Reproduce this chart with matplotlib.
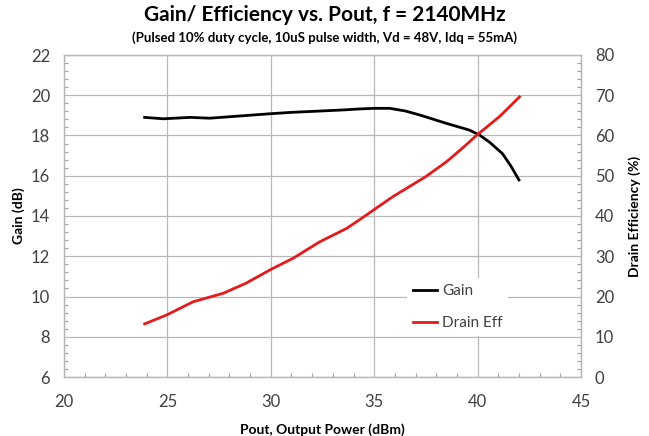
import matplotlib
matplotlib.use("Agg")
import matplotlib.pyplot as plt
from matplotlib.ticker import MultipleLocator

# Data
gain_pout = [23.9, 24.8, 26.1, 27.05, 28.5, 29.95, 31.0, 32.05, 33.5, 34.3, 35.0, 35.75, 36.5, 37.2, 38.5, 39.6, 40.1, 40.6, 41.2, 41.6, 42.0]
gain_db   = [18.9, 18.83, 18.9, 18.86, 18.97, 19.08, 19.15, 19.2, 19.27, 19.32, 19.35, 19.35, 19.22, 19.02, 18.6, 18.27, 18.02, 17.65, 17.1, 16.5, 15.79]

eff_pout = [23.9, 24.96, 26.25, 27.7, 28.8, 30.03, 31.08, 32.37, 33.66, 34.3, 35.9, 37.5, 38.5, 39.3, 39.94, 41.06, 42.03]
eff_pct  = [13.2, 15.4, 18.7, 20.8, 23.3, 26.8, 29.5, 33.6, 36.9, 39.1, 44.8, 49.8, 53.5, 57.0, 60.0, 64.7, 69.6]

title = "Gain/ Efficiency vs. Pout, f = 2140MHz"
subtitle = "(Pulsed 10% duty cycle, 10uS pulse width, Vd = 48V, Idq = 55mA)"

plt.rcParams['font.family'] = ['Lato', 'DejaVu Sans']
txt = '#404040'
gridc = '#b8b8b8'

fig = plt.figure(figsize=(6.49, 4.36), dpi=100)
ax = fig.add_axes([64/649, 1-377/436, (581-64)/649, (377-55)/436])
ax2 = ax.twinx()

ax.set_xlim(20, 45)
ax.set_ylim(6, 22)
ax2.set_ylim(0, 80)
ax.xaxis.set_major_locator(MultipleLocator(5))
ax.xaxis.set_minor_locator(MultipleLocator(1))
ax.yaxis.set_major_locator(MultipleLocator(2))
ax.yaxis.set_minor_locator(MultipleLocator(0.4))
ax2.yaxis.set_major_locator(MultipleLocator(10))
ax2.yaxis.set_minor_locator(MultipleLocator(2))

ax.grid(True, which='major', color=gridc, linewidth=0.9)
ax.set_axisbelow(True)

for a in (ax, ax2):
    for s in a.spines.values():
        s.set_color(gridc)
        s.set_linewidth(0.9)
    a.tick_params(which='both', direction='in', color='#a0a0a0', labelsize=12, labelcolor=txt)
    a.tick_params(which='major', length=0, pad=10)
    a.tick_params(which='minor', length=3, width=0.8)
ax.tick_params(axis='x', pad=12)

l1, = ax.plot(gain_pout, gain_db, color='black', linewidth=2, label='Gain')
l2, = ax2.plot(eff_pout, eff_pct, color='#e41a1c', linewidth=2, label='Drain Eff')

ax.set_xlabel('Pout, Output Power (dBm)', fontsize=10, fontweight='bold', color='black', labelpad=10)
ax.set_ylabel('Gain (dB)', fontsize=10, fontweight='bold', color='black', labelpad=4)
ax2.set_ylabel('Drain Efficiency (%)', fontsize=10, fontweight='bold', color='black', labelpad=10)

fig.text(0.5, 1-15/436, title, ha='center', va='center', fontsize=15, fontweight='bold', color='black')
fig.text(0.5, 1-38/436, subtitle, ha='center', va='center', fontsize=9.5, fontweight='bold', color='black')

leg = ax2.legend(handles=[l1, l2], loc='lower left', bbox_to_anchor=((399-64)/517, (377-344)/322),
                 frameon=True, fontsize=11, handlelength=1.6, handletextpad=0.3, labelspacing=1.2,
                 borderpad=0.4)
leg.get_frame().set_facecolor('white')
leg.get_frame().set_edgecolor('none')
leg.get_frame().set_alpha(1)
for t in leg.get_texts():
    t.set_color(txt)

fig.savefig('out.png', dpi=100)
